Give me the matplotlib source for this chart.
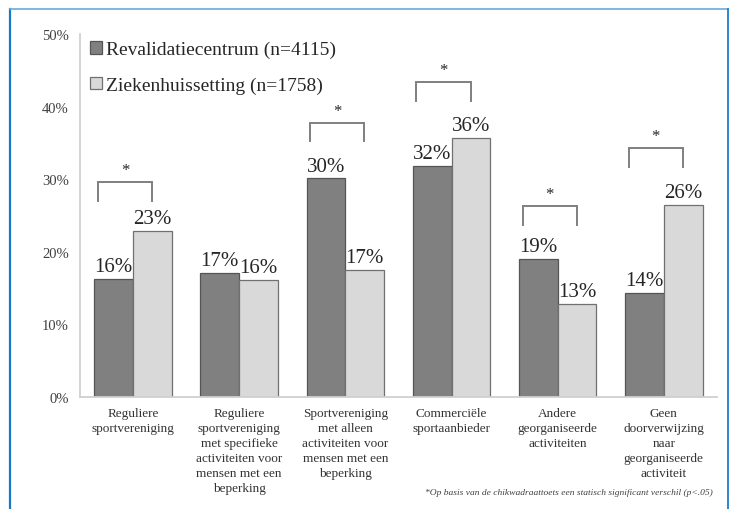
import matplotlib
matplotlib.use("Agg")
import matplotlib.pyplot as plt
from matplotlib.patches import Patch
from matplotlib.lines import Line2D
import numpy as np

categories = [
    "Reguliere\nsportvereniging",
    "Reguliere\nsportvereniging\nmet specifieke\nactiviteiten voor\nmensen met een\nbeperking",
    "Sportvereniging\nmet alleen\nactiviteiten voor\nmensen met een\nbeperking",
    "Commerciële\nsportaanbieder",
    "Andere\ngeorganiseerde\nactiviteiten",
    "Geen\ndoorverwijzing\nnaar\ngeorganiseerde\nactiviteit",
]
series_names = ["Revalidatiecentrum (n=4115)", "Ziekenhuissetting (n=1758)"]
revalidatie = [16.3, 17.1, 30.1, 31.8, 19.0, 14.3]
ziekenhuis = [22.9, 16.1, 17.5, 35.7, 12.8, 26.4]
value_labels_rev = ["16%", "17%", "30%", "32%", "19%", "14%"]
value_labels_zh = ["23%", "16%", "17%", "36%", "13%", "26%"]
significant = [True, False, True, True, True, True]
bracket_top = [29.6, None, 37.8, 43.4, 26.3, 34.3]
yticks = [0, 10, 20, 30, 40, 50]
ytick_labels = ["0%", "10%", "20%", "30%", "40%", "50%"]
footnote = "*Op basis van de chikwadraattoets een statisch significant verschil (p<.05)"

SERIF = ["Liberation Serif", "DejaVu Serif"]
dark = "#808080"
light = "#D9D9D9"

fig = plt.figure(figsize=(7.36, 5.10), dpi=100)
ax = fig.add_axes([0.1087, 0.2196, 0.974 - 0.1087, 0.9314 - 0.2196])

x = np.arange(len(categories))
w = 0.365
ax.bar(x - w / 2, revalidatie, w, color=dark, edgecolor="#555555", linewidth=0.9, zorder=2)
ax.bar(x + w / 2, ziekenhuis, w, color=light, edgecolor="#707070", linewidth=0.9, zorder=2)

for i in range(len(categories)):
    ax.text(x[i] - w / 2, revalidatie[i] + 0.4, value_labels_rev[i], ha="center", va="bottom",
            fontsize=15, family=SERIF, color="#262626")
    ax.text(x[i] + w / 2, ziekenhuis[i] + 0.4, value_labels_zh[i], ha="center", va="bottom",
            fontsize=15, family=SERIF, color="#262626")
    if significant[i]:
        top = bracket_top[i]
        x0, x1 = x[i] - 0.33, x[i] + 0.18
        ax.plot([x0, x0, x1, x1], [top - 2.6, top, top, top - 2.6], color="#7f7f7f", lw=1.4,
                solid_joinstyle="miter", zorder=3)
        ax.text((x0 + x1) / 2, top + 0.5, "*", ha="center", va="bottom", fontsize=12,
                family=SERIF, color="#262626")

ax.set_xlim(-0.5, len(categories) - 0.5)
ax.set_ylim(0, 50)
ax.set_yticks(yticks)
ax.set_yticklabels(ytick_labels, family=SERIF, fontsize=10.5, color="#404040")
ax.set_xticks(x)
ax.set_xticklabels(categories, family=SERIF, fontsize=9.5, color="#333333", linespacing=1.33)
ax.tick_params(axis="both", length=0)
ax.tick_params(axis="y", pad=8)
ax.tick_params(axis="x", pad=7)
for s in ["top", "right"]:
    ax.spines[s].set_visible(False)
for s in ["left", "bottom"]:
    ax.spines[s].set_color("#D0D0D0")
    ax.spines[s].set_linewidth(1.3)

handles = [Patch(facecolor=dark, edgecolor="#555555", linewidth=0.9),
           Patch(facecolor=light, edgecolor="#707070", linewidth=0.9)]
fig.legend(handles, series_names, loc="upper left", bbox_to_anchor=(0.112, 0.933),
           frameon=False, prop={"family": SERIF, "size": 14}, handlelength=0.6,
           handleheight=0.6, handletextpad=0.2, labelspacing=0.95, borderaxespad=0,
           labelcolor="#262626")

fig.text(0.968, 0.025, footnote, ha="right", va="bottom", fontsize=6.8, style="italic",
         family=SERIF, color="#404040")

blue = "#2D86CC"
fig.add_artist(Line2D([0.0136, 0.0136], [0.0, 0.980], color="#1A78C8", lw=1.6, transform=fig.transFigure))
fig.add_artist(Line2D([0.0136, 0.989], [0.980, 0.980], color="#6AAAE0", lw=1.2, transform=fig.transFigure))
fig.add_artist(Line2D([0.989, 0.989], [0.0, 0.980], color=blue, lw=1.4, transform=fig.transFigure))

fig.savefig("out.png", dpi=100)
